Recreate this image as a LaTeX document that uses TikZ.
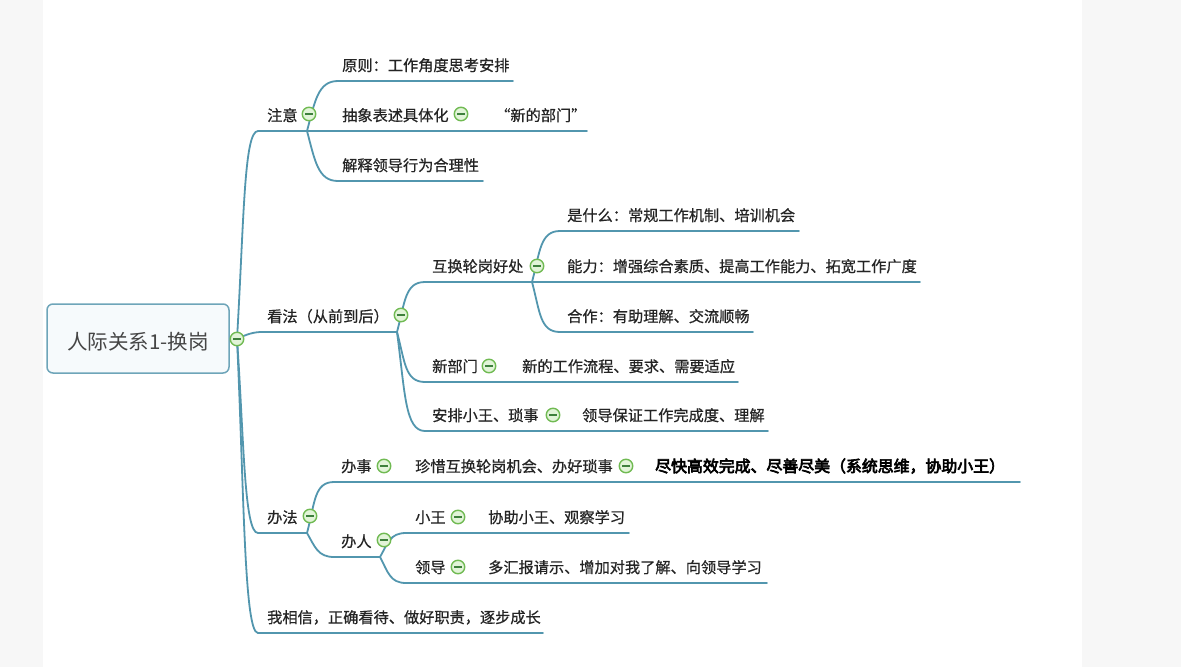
\documentclass[tikz,border=0pt]{standalone}
\usepackage{fontspec}
\newfontfamily\cjk{Noto Sans CJK SC}[FakeBold=0.6]
\newfontfamily\cjkroot{Noto Sans CJK SC}
\newfontfamily\cjkbold{Noto Sans CJK SC}[FakeBold=4]
\usetikzlibrary{calc}

\pgfdeclarelayer{paper}
\pgfdeclarelayer{wires}
\pgfsetlayers{paper,wires,main}

\definecolor{wirec}{RGB}{82,150,174}
\definecolor{ink}{RGB}{36,36,36}
\definecolor{rootline}{RGB}{110,165,185}
\definecolor{rootfill}{RGB}{246,250,252}
\definecolor{foldring}{RGB}{112,186,82}
\definecolor{foldfill}{RGB}{226,244,216}
\definecolor{foldbar}{RGB}{62,128,60}
\definecolor{margin}{RGB}{247,247,247}

\tikzset{
  topic/.style={anchor=base west, inner sep=0pt, text=ink,
    font=\cjk\fontsize{15.2}{16}\selectfont},
  strongtopic/.style={topic, text=black, font=\cjkbold\fontsize{15.9}{16}\selectfont},
  rootbox/.style={draw=rootline, fill=rootfill, line width=1.5pt,
    rounded corners=6pt, minimum width=182pt, minimum height=69pt,
    inner sep=0pt, text=ink!85, text height=24pt, text depth=2pt,
    font=\cjkroot\fontsize{20.5}{22}\selectfont},
  fold/.style={circle, draw=foldring, fill=foldfill, line width=1.4pt,
    minimum size=13.5pt, inner sep=0pt,
    path picture={\draw[foldbar, line width=1.5pt]
      ([xshift=-3.6pt]path picture bounding box.center) --
      ([xshift=3.6pt]path picture bounding box.center);}},
  wire/.style={draw=wirec, line width=1.8pt, line cap=round},
}

\begin{document}
\begin{tikzpicture}[x=1pt,y=-1pt]
\useasboundingbox (0,0) rectangle (1181,667);

% sheet with grey margins
\begin{pgfonlayer}{paper}
  \fill[margin] (0,0) rectangle (1181,667);
  \fill[white] (43,0) rectangle (1082,667);
\end{pgfonlayer}

% central topic
\node[rootbox] (root) at (138,338.5) {人际关系1-换岗};

% fold markers
\node[fold] (fold0) at (237,339) {};
\node[fold] (f-zy) at (309,114) {};
\node[fold] (f-kf) at (401,315) {};
\node[fold] (f-bf) at (310,516) {};
\node[fold] (f-cx) at (461,114) {};
\node[fold] (f-hh) at (537,266) {};
\node[fold] (f-xb) at (489,366) {};
\node[fold] (f-ap) at (553,415) {};
\node[fold] (f-bs) at (384,466) {};
\node[fold] (f-zx) at (626,466) {};
\node[fold] (f-br) at (384,540) {};
\node[fold] (f-xw) at (458,517) {};
\node[fold] (f-ld) at (458,567) {};

% first level
\node[topic] (zy) at (267,121) {注意};
\node[topic] (kf) at (267,322) {看法（从前到后）};
\node[topic] (bf) at (267,523) {办法};
\node[topic] (wx) at (267,623) {我相信，正确看待、做好职责，逐步成长};

% under 注意
\node[topic] (yz) at (342,71) {原则：工作角度思考安排};
\node[topic] (cx) at (342,121) {抽象表述具体化};
\node[topic] (xbm) at (495,121) {“新的部门”};
\node[topic] (js) at (342,171) {解释领导行为合理性};

% under 看法
\node[topic] (hh) at (432,272) {互换轮岗好处};
\node[topic] (xb) at (432,372) {新部门};
\node[topic] (xbd) at (522,372) {新的工作流程、要求、需要适应};
\node[topic] (ap) at (432,421) {安排小王、琐事};
\node[topic] (apd) at (582,421) {领导保证工作完成度、理解};

% under 互换轮岗好处
\node[topic] (sm) at (567,221) {是什么：常规工作机制、培训机会};
\node[topic] (nl) at (567,272) {能力：增强综合素质、提高工作能力、拓宽工作广度};
\node[topic] (hz) at (567,322) {合作：有助理解、交流顺畅};

% under 办法
\node[topic] (bs) at (341,472) {办事};
\node[topic] (zx) at (415,472) {珍惜互换轮岗机会、办好琐事};
\node[strongtopic] (jk) at (655,472) {尽快高效完成、尽善尽美（系统思维，协助小王）};
\node[topic] (br) at (341,547) {办人};
\node[topic] (xw) at (415,523) {小王};
\node[topic] (xwd) at (488,523) {协助小王、观察学习};
\node[topic] (ld) at (415,573) {领导};
\node[topic] (ldd) at (488,573) {多汇报请示、增加对我了解、向领导学习};

% underline ends and starts
\coordinate (zy-s) at (258,131);  \coordinate (zy-e) at (307,131);
\coordinate (kf-s) at (262,332);  \coordinate (kf-e) at (397,332);
\coordinate (bf-s) at (258,533);  \coordinate (bf-e) at (307,533);
\coordinate (wx-s) at (258,633);  \coordinate (wx-e) at (543,633);
\coordinate (yz-s) at (338,81);   \coordinate (yz-e) at (513,81);
\coordinate (cx-e) at (587,131);
\coordinate (js-s) at (338,181);  \coordinate (js-e) at (483,181);
\coordinate (hh-s) at (425,282);  \coordinate (hh-e) at (532,282);
\coordinate (xb-s) at (425,382);  \coordinate (xb-e) at (738,382);
\coordinate (ap-s) at (425,431);  \coordinate (ap-e) at (768,431);
\coordinate (sm-s) at (560,231);  \coordinate (sm-e) at (799,231);
\coordinate (nl-e) at (920,282);
\coordinate (hz-s) at (560,332);  \coordinate (hz-e) at (753,332);
\coordinate (bs-s) at (334,482);  \coordinate (bs-e) at (1020,482);
\coordinate (br-s) at (334,557);  \coordinate (br-e) at (380,557);
\coordinate (xw-s) at (406,533);  \coordinate (xw-e) at (629,533);
\coordinate (ld-s) at (406,583);  \coordinate (ld-e) at (767,583);

% branches
\begin{pgfonlayer}{wires}
  \draw[wire] (root.east) -- (fold0.center);
  \draw[wire] (fold0.center) .. controls +(7,-120) and +(-14,0) .. (zy-s) -- (zy-e);
  \draw[wire] (fold0.center) .. controls +(10,-5) and +(-8,0) .. (kf-s) -- (kf-e);
  \draw[wire] (fold0.center) .. controls +(7,100) and +(-14,0) .. (bf-s) -- (bf-e);
  \draw[wire] (fold0.center) .. controls +(7,150) and +(-14,0) .. (wx-s) -- (wx-e);

  \draw[wire] (zy-e) .. controls +(8,-30) and +(-20,0) .. (yz-s) -- (yz-e);
  \draw[wire] (zy-e) -- (cx-e);
  \draw[wire] (zy-e) .. controls +(8,30) and +(-20,0) .. (js-s) -- (js-e);

  \draw[wire] (kf-e) .. controls +(8,-30) and +(-20,0) .. (hh-s) -- (hh-e);
  \draw[wire] (kf-e) .. controls +(8,30) and +(-20,0) .. (xb-s) -- (xb-e);
  \draw[wire] (kf-e) .. controls +(8,60) and +(-20,0) .. (ap-s) -- (ap-e);

  \draw[wire] (hh-e) .. controls +(8,-30) and +(-20,0) .. (sm-s) -- (sm-e);
  \draw[wire] (hh-e) -- (nl-e);
  \draw[wire] (hh-e) .. controls +(8,30) and +(-20,0) .. (hz-s) -- (hz-e);

  \draw[wire] (bf-e) .. controls +(8,-30) and +(-20,0) .. (bs-s) -- (bs-e);
  \draw[wire] (bf-e) .. controls +(8,14) and +(-16,0) .. (br-s) -- (br-e);

  \draw[wire] (br-e) .. controls +(8,-14) and +(-16,0) .. (xw-s) -- (xw-e);
  \draw[wire] (br-e) .. controls +(8,15) and +(-16,0) .. (ld-s) -- (ld-e);
\end{pgfonlayer}
\end{tikzpicture}
\end{document}
